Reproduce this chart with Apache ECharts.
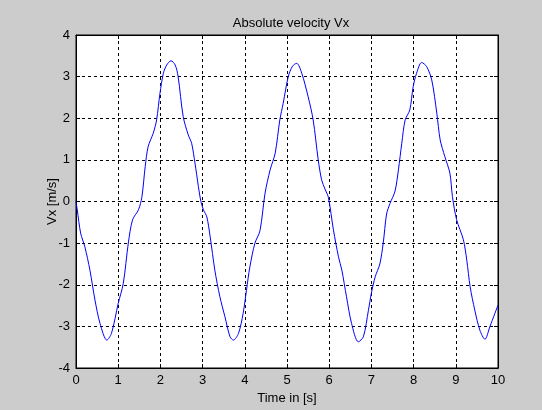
<!DOCTYPE html>
<html>
<head>
<meta charset="utf-8">
<script src="https://cdn.jsdelivr.net/npm/echarts@6/dist/echarts.min.js"></script>
<style>
  html, body { margin: 0; padding: 0; background: #cccccc; }
  #chart { width: 542px; height: 410px; }
</style>
</head>
<body>
<div id="chart"></div>
<script>
// values
const time = [
  0, 0.03, 0.11, 0.21, 0.33, 0.45, 0.57, 0.73, 0.84, 1.0,
  1.12, 1.24, 1.34, 1.48, 1.56, 1.64, 1.71, 1.83, 1.91, 1.99,
  2.07, 2.15, 2.25, 2.35, 2.42, 2.54, 2.66, 2.74, 2.82, 2.9,
  2.96, 3.02, 3.1, 3.18, 3.29, 3.41, 3.53, 3.65, 3.73, 3.85,
  3.96, 4.04, 4.12, 4.24, 4.36, 4.48, 4.6, 4.72, 4.83, 4.91,
  5.03, 5.13, 5.23, 5.35, 5.5, 5.62, 5.74, 5.82, 5.9, 5.98,
  6.1, 6.22, 6.3, 6.41, 6.53, 6.69, 6.81, 6.93, 7.0, 7.09,
  7.2, 7.28, 7.36, 7.44, 7.56, 7.64, 7.72, 7.8, 7.91, 7.99,
  8.07, 8.19, 8.31, 8.43, 8.55, 8.63, 8.74, 8.86, 8.92, 9.02,
  9.18, 9.26, 9.34, 9.45, 9.57, 9.69, 9.81, 10.0
]
const vx = [
  0, -0.2, -0.76, -1.09, -1.65, -2.37, -2.93, -3.33, -3.17, -2.45,
  -1.97, -1.0, -0.44, -0.2, 0.1, 0.84, 1.32, 1.64, 1.96, 2.6,
  3.08, 3.28, 3.38, 3.28, 3.0, 2.04, 1.6, 1.4, 0.92, 0.36,
  0.0, -0.2, -0.37, -0.85, -1.65, -2.29, -2.77, -3.25, -3.33, -3.17,
  -2.69, -2.13, -1.57, -1.0, -0.7, 0.2, 0.76, 1.16, 1.96, 2.36,
  3.0, 3.25, 3.32, 3.08, 2.52, 1.96, 1.0, 0.52, 0.3, 0.1,
  -0.68, -1.33, -1.65, -2.29, -2.93, -3.37, -3.25, -2.61, -2.2, -1.81,
  -1.5, -1.0, -0.3, -0.05, 0.25, 0.76, 1.4, 1.96, 2.2, 2.76,
  3.08, 3.34, 3.24, 2.92, 2.12, 1.48, 1.08, 0.68, 0.12, -0.44,
  -0.92, -1.41, -2.05, -2.61, -3.09, -3.31, -3.0, -2.49
]

const font = 'Liberation Sans, Arial, sans-serif'
const gridLine = { show: true, lineStyle: { color: '#000', width: 1, type: [3, 3] } }
const frameLine = { show: true, onZero: false, lineStyle: { color: '#000' } }
const innerTick = { show: true, inside: true, length: 4, lineStyle: { color: '#000' } }

const chart = echarts.init(document.getElementById('chart'))

chart.setOption({
  backgroundColor: '#cccccc',
  animation: false,
  title: {
    text: 'Absolute velocity Vx',
    left: 286,
    top: 12,
    textAlign: 'center',
    textStyle: { fontFamily: font, fontSize: 13, fontWeight: 'normal', color: '#000' }
  },
  grid: {
    left: 76, right: 44, top: 35, bottom: 42,
    show: true, backgroundColor: '#fff', borderColor: '#000', borderWidth: 1
  },
  xAxis: [{
    type: 'value', min: 0, max: 10, interval: 1,
    name: 'Time in [s]', nameLocation: 'middle', nameGap: 21,
    nameTextStyle: { fontFamily: font, fontSize: 13, color: '#000' },
    axisLine: frameLine,
    axisTick: innerTick,
    axisLabel: { fontFamily: font, fontSize: 13, color: '#000', margin: 6 },
    splitLine: gridLine
  }, {
    type: 'value', min: 0, max: 10, interval: 1, position: 'top',
    axisLine: frameLine,
    axisTick: innerTick,
    axisLabel: { show: false }, splitLine: { show: false }
  }],
  yAxis: [{
    type: 'value', min: -4, max: 4, interval: 1,
    name: 'Vx [m/s]', nameLocation: 'middle', nameGap: 17, nameRotate: 90,
    nameMoveOverlap: false,
    nameTextStyle: { fontFamily: font, fontSize: 13, color: '#000' },
    axisLine: frameLine,
    axisTick: innerTick,
    axisLabel: { fontFamily: font, fontSize: 13, color: '#000', margin: 6 },
    splitLine: gridLine
  }, {
    type: 'value', min: -4, max: 4, interval: 1, position: 'right',
    axisLine: frameLine,
    axisTick: innerTick,
    axisLabel: { show: false }, splitLine: { show: false }
  }],
  series: [{
    type: 'line',
    data: time.map((t, i) => [t, vx[i]]),
    showSymbol: false,
    smooth: 0.3,
    lineStyle: { color: '#0000ff', width: 1 },
    itemStyle: { color: '#0000ff' }
  }]
})
</script>
</body>
</html>
